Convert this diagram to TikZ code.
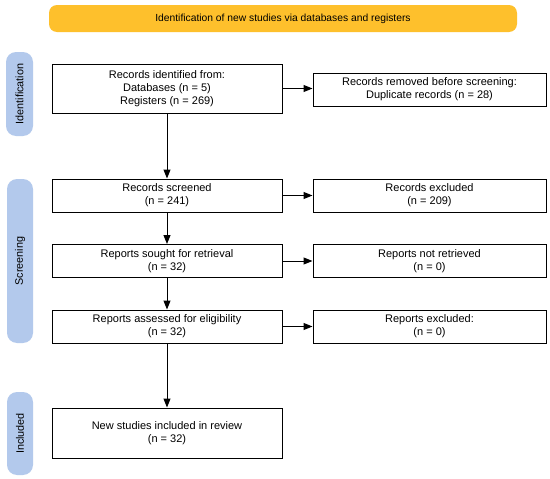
\documentclass[tikz,border=0pt]{standalone}
\usepackage{fontspec}
\setmainfont{Liberation Sans}
\usetikzlibrary{arrows.meta}
\definecolor{banner}{HTML}{FEC02C}
\definecolor{side}{HTML}{B3C9EC}
\begin{document}
\begin{tikzpicture}[x=1pt,y=-1pt,
  txt/.style={font=\fontsize{10.3}{13}\selectfont},
  sidetxt/.style={font=\fontsize{10.8}{13}\selectfont},
  box/.style={font=\fontsize{11}{13}\selectfont, draw=black, line width=1pt, fill=white, align=center, inner sep=0pt},
  arr/.style={-{Triangle[length=9pt,width=7pt]}, line width=1pt}]
\useasboundingbox (0,0) rectangle (550,479);
\fill[white] (0,0) rectangle (550,479);
% banner
\fill[banner, rounded corners=8pt] (49,5) rectangle (517,32);
\node[txt] (ban) at (283,18.5) {Identification of new studies via databases and registers};
% side labels
\fill[side, rounded corners=10pt] (6,52) rectangle (33,136);
\node[rotate=90, sidetxt] (sid) at (19.5,94) {Identification};
\fill[side, rounded corners=10pt] (7,179) rectangle (33,343);
\node[rotate=90, sidetxt] (sscr) at (20,261) {Screening};
\fill[side, rounded corners=10pt] (7,392) rectangle (33,475);
\node[rotate=90, sidetxt] (sinc) at (20,433.5) {Included};
% left boxes
\node[box, minimum width=230pt, minimum height=49pt] (b1) at (167,88.5) {Records identified from:\\Databases (n = 5)\\Registers (n = 269)};
\node[box, minimum width=230pt, minimum height=33pt] (b2) at (167,195.5) {Records screened\\(n = 241)};
\node[box, minimum width=230pt, minimum height=33pt] (b3) at (167,261) {Reports sought for retrieval\\(n = 32)};
\node[box, minimum width=230pt, minimum height=33pt] (b4) at (167,326.5) {Reports assessed for eligibility\\(n = 32)};
\node[box, minimum width=230pt, minimum height=50pt] (b5) at (167,433) {New studies included in review\\(n = 32)};
% right boxes
\node[box, minimum width=233pt, minimum height=33pt] (r1) at (429.5,89.5) {Records removed before screening:\\Duplicate records (n = 28)};
\node[box, minimum width=233pt, minimum height=33pt] (r2) at (429.5,195.5) {Records excluded\\(n = 209)};
\node[box, minimum width=233pt, minimum height=33pt] (r3) at (429.5,261) {Reports not retrieved\\(n = 0)};
\node[box, minimum width=233pt, minimum height=33pt] (r4) at (429.5,326.5) {Reports excluded:\\(n = 0)};
% arrows
\draw[arr] (b1) -- (b2);
\draw[arr] (b2) -- (b3);
\draw[arr] (b3) -- (b4);
\draw[arr] (b4) -- (b5);
\draw[arr] (b1.east) -- (b1.east -| r1.west);
\draw[arr] (b2) -- (r2);
\draw[arr] (b3) -- (r3);
\draw[arr] (b4) -- (r4);
\end{tikzpicture}
\end{document}
